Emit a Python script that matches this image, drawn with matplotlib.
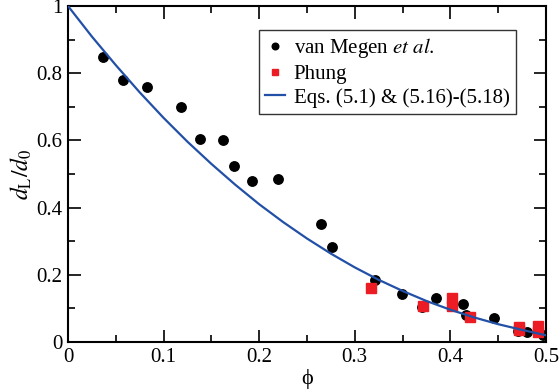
import matplotlib
matplotlib.use("Agg")
import matplotlib.pyplot as plt
from matplotlib.ticker import MultipleLocator

plt.rcParams['font.family'] = ['Liberation Serif', 'DejaVu Serif']
plt.rcParams['mathtext.fontset'] = 'stix'

# van Megen et al. data
vm_phi = [0.037, 0.058, 0.083, 0.118, 0.138, 0.162, 0.174, 0.192, 0.220, 0.265, 0.276,
          0.321, 0.349, 0.370, 0.385, 0.413, 0.416, 0.446, 0.471, 0.480, 0.4965]
vm_d = [0.848, 0.779, 0.759, 0.699, 0.604, 0.601, 0.524, 0.479, 0.485, 0.351, 0.283,
        0.185, 0.143, 0.103, 0.132, 0.112, 0.080, 0.072, 0.033, 0.031, 0.022]

# Phung data
ph_phi = [0.3166, 0.3714, 0.4015, 0.4015, 0.4207, 0.4717, 0.4717, 0.492, 0.492]
ph_d = [0.160, 0.108, 0.130, 0.106, 0.073, 0.0455, 0.036, 0.0485, 0.031]

# Theory curve: Eqs. (5.1) & (5.16)-(5.18)
th_phi = [0.0, 0.025, 0.05, 0.075, 0.1, 0.125, 0.15, 0.175, 0.2, 0.225, 0.25,
          0.275, 0.3, 0.325, 0.35, 0.375, 0.4, 0.425, 0.45, 0.475, 0.5]
th_d = [1.000, 0.909, 0.824, 0.743, 0.667, 0.596, 0.530, 0.468, 0.410, 0.357, 0.308,
        0.263, 0.222, 0.185, 0.152, 0.122, 0.096, 0.073, 0.053, 0.036, 0.020]

fig = plt.figure(figsize=(5.59, 3.89), dpi=100)
ax = fig.add_axes([68/559, 1-342/389, (546-68)/559, (342-6)/389])

ax.plot(vm_phi, vm_d, 'o', color='black', markersize=6.8, linestyle='none',
        label=r'van Megen $\mathit{et\ al.}$', zorder=3)
ax.plot(ph_phi, ph_d, 's', color='#ec1c24', markersize=6.5, linestyle='none',
        label='Phung', zorder=3)
ax.plot(th_phi, th_d, '-', color='#2150a6', linewidth=1.6,
        label='Eqs. (5.1) & (5.16)-(5.18)', zorder=4)

ax.set_xlim(0, 0.5)
ax.set_ylim(0, 1)
ax.xaxis.set_minor_locator(MultipleLocator(0.05))
ax.yaxis.set_minor_locator(MultipleLocator(0.1))
ax.set_xticks([0, 0.1, 0.2, 0.3, 0.4, 0.5])
ax.set_xticklabels(['0', '0.1', '0.2', '0.3', '0.4', '0.5'])
ax.set_yticks([0, 0.2, 0.4, 0.6, 0.8, 1.0])
ax.set_yticklabels(['0', '0.2', '0.4', '0.6', '0.8', '1'])
ax.tick_params(which='both', direction='in', top=True, right=True, labelsize=15, width=1.2)
ax.tick_params(which='major', length=9, pad=4)
ax.tick_params(which='minor', length=5)
for s in ax.spines.values():
    s.set_linewidth(1.5)

ax.set_xlabel('\u03d5', fontsize=16, labelpad=2)
ax.set_ylabel(r'$d_{\rm L}/d_0$', fontsize=17, labelpad=2)

leg = ax.legend(loc='upper left', bbox_to_anchor=(0.40, 0.929), borderaxespad=0,
                fontsize=15, frameon=True, fancybox=False, edgecolor='black',
                handlelength=0.95, handletextpad=0.4, labelspacing=0.2,
                borderpad=0.3, markerscale=0.7)
leg.get_frame().set_linewidth(1.0)

fig.savefig('out.png', dpi=100)
